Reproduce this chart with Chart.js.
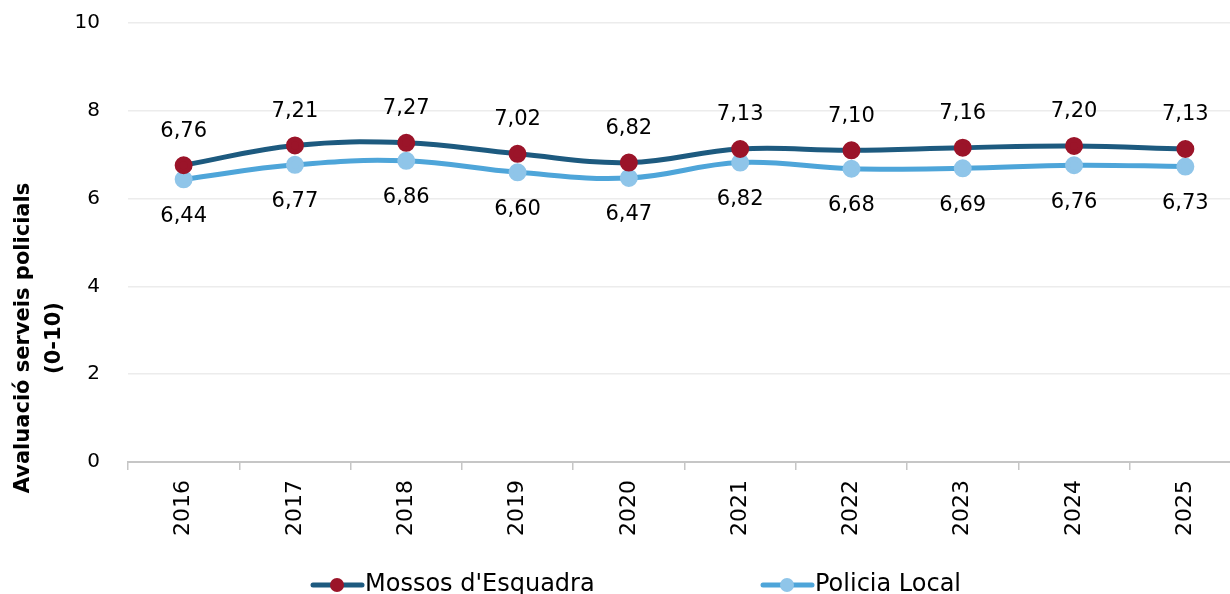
<!DOCTYPE html>
<html>
<head>
<meta charset="utf-8">
<script src="https://cdn.jsdelivr.net/npm/chart.js@4.4.1/dist/chart.umd.min.js"></script>
<style>
  html, body { margin: 0; padding: 0; background: #fff; overflow: hidden; }
  #wrap { position: relative; width: 1242px; height: 630px; margin-top: -17px; }
</style>
</head>
<body>
<div id="wrap"><canvas id="chart-line-1" width="1242" height="630"></canvas></div>
<script>
const years = ['2016', '2017', '2018', '2019', '2020', '2021', '2022', '2023', '2024', '2025'];
const mossos = [6.76, 7.21, 7.27, 7.02, 6.82, 7.13, 7.10, 7.16, 7.20, 7.13];
const policiaLocal = [6.44, 6.77, 6.86, 6.60, 6.47, 6.82, 6.68, 6.69, 6.76, 6.73];
const seriesNames = ["Mossos d'Esquadra", 'Policia Local'];
const yTitle = ['Avaluació serveis policials', '(0-10)'];

const FONT = "'DejaVu Sans', sans-serif";
const mossosLine = '#1d5a7f', mossosPoint = '#9b1429';
const localLine = '#4ea5d9', localPoint = '#8fc5e9';

// labels above/below the points, like the excel data labels
const valueLabels = {
  id: 'valueLabels',
  afterDatasetsDraw(chart) {
    const ctx = chart.ctx;
    ctx.save();
    ctx.font = '21px ' + FONT;
    ctx.fillStyle = '#000';
    ctx.textAlign = 'center';
    ctx.textBaseline = 'middle';
    chart.data.datasets.forEach((ds, i) => {
      const meta = chart.getDatasetMeta(i);
      meta.data.forEach((pt, j) => {
        const txt = ds.data[j].toFixed(2).replace('.', ',');
        const y = i === 0 ? pt.y - 34 : pt.y + 37;
        ctx.fillText(txt, pt.x, y);
      });
    });
    ctx.restore();
  }
};

// y title sits a bit lower than the plot centre in the original, so draw it here
const sideTitle = {
  id: 'sideTitle',
  afterDraw(chart) {
    const ctx = chart.ctx;
    const cy = chart.chartArea.bottom - 124;
    ctx.save();
    ctx.font = 'bold 21px ' + FONT;
    ctx.fillStyle = '#000';
    ctx.textAlign = 'center';
    ctx.textBaseline = 'middle';
    [24, 55].forEach((x, i) => {
      ctx.save();
      ctx.translate(x, cy);
      ctx.rotate(-Math.PI / 2);
      ctx.fillText(yTitle[i], 0, 0);
      ctx.restore();
    });
    ctx.restore();
  }
};

// legend drawn by hand: line sample with the marker in the middle
const bottomLegend = {
  id: 'bottomLegend',
  afterDraw(chart) {
    const ctx = chart.ctx;
    const items = [
      { x: 310, name: seriesNames[0], line: mossosLine, point: mossosPoint },
      { x: 760, name: seriesNames[1], line: localLine, point: localPoint }
    ];
    const y = chart.chartArea.bottom + 123;
    ctx.save();
    items.forEach(it => {
      ctx.strokeStyle = it.line;
      ctx.lineWidth = 5;
      ctx.lineCap = 'round';
      ctx.beginPath();
      ctx.moveTo(it.x + 3, y);
      ctx.lineTo(it.x + 52, y);
      ctx.stroke();
      ctx.fillStyle = it.point;
      ctx.beginPath();
      ctx.arc(it.x + 27, y, 7, 0, Math.PI * 2);
      ctx.fill();
      ctx.fillStyle = '#000';
      ctx.font = '24px ' + FONT;
      ctx.textBaseline = 'middle';
      ctx.textAlign = 'left';
      ctx.fillText(it.name, it.x + 55, y);
    });
    ctx.restore();
  }
};

const ctx = document.getElementById('chart-line-1').getContext('2d');
new Chart(ctx, {
  type: 'line',
  data: {
    labels: years,
    datasets: [
      {
        label: seriesNames[0],
        data: mossos,
        borderColor: mossosLine,
        backgroundColor: mossosPoint,
        pointBackgroundColor: mossosPoint,
        pointBorderColor: mossosPoint,
        borderWidth: 5,
        pointRadius: 6.5,
        tension: 0.4
      },
      {
        label: seriesNames[1],
        data: policiaLocal,
        borderColor: localLine,
        backgroundColor: localPoint,
        pointBackgroundColor: localPoint,
        pointBorderColor: localPoint,
        borderWidth: 5,
        pointRadius: 6.5,
        tension: 0.4
      }
    ]
  },
  options: {
    responsive: false,
    animation: false,
    layout: { autoPadding: false, padding: { top: 6, right: 1, bottom: 67, left: 0 } },
    plugins: {
      legend: { display: false },
      tooltip: { enabled: false }
    },
    scales: {
      y: {
        min: 0,
        max: 10,
        afterFit: (scale) => { scale.width = 128; },
        ticks: { stepSize: 2, color: '#000', padding: 28, font: { family: FONT, size: 20 } },
        grid: { color: '#ececec', lineWidth: 1.5, drawTicks: false },
        border: { display: false },
        title: { display: false }
      },
      x: {
        offset: true,
        ticks: {
          color: '#000',
          minRotation: 90,
          maxRotation: 90,
          padding: 10,
          font: { family: FONT, size: 22 }
        },
        grid: { display: true, drawOnChartArea: false, offset: true, color: '#c6c6c6', lineWidth: 1.5, tickLength: 8 },
        border: { color: '#c6c6c6', width: 2 }
      }
    }
  },
  plugins: [valueLabels, sideTitle, bottomLegend]
});
</script>
</body>
</html>
